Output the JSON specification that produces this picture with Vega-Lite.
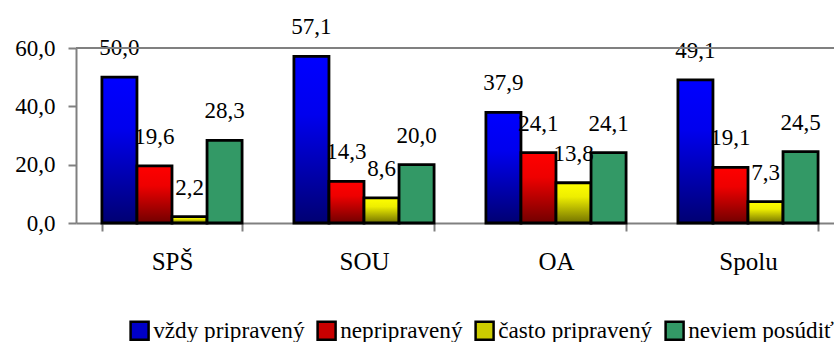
{
  "$schema": "https://vega.github.io/schema/vega-lite/v6.json",
  "width": 758,
  "height": 175,
  "autosize": {"type": "none"},
  "padding": {"left": 76, "top": 48, "right": 0, "bottom": 119},
  "background": "white",
  "config": {
    "locale": {"number": {"decimal": ",", "thousands": " ", "grouping": [3], "currency": ["", " €"]}},
    "view": {"stroke": null},
    "font": "Liberation Serif"
  },
  "data": {
    "values": [
      {"skupina": "SPŠ", "odpoved": "vždy pripravený", "hodnota": 50.0},
      {"skupina": "SPŠ", "odpoved": "nepripravený", "hodnota": 19.6},
      {"skupina": "SPŠ", "odpoved": "často pripravený", "hodnota": 2.2},
      {"skupina": "SPŠ", "odpoved": "neviem posúdiť", "hodnota": 28.3},
      {"skupina": "SOU", "odpoved": "vždy pripravený", "hodnota": 57.1},
      {"skupina": "SOU", "odpoved": "nepripravený", "hodnota": 14.3},
      {"skupina": "SOU", "odpoved": "často pripravený", "hodnota": 8.6},
      {"skupina": "SOU", "odpoved": "neviem posúdiť", "hodnota": 20.0},
      {"skupina": "OA", "odpoved": "vždy pripravený", "hodnota": 37.9},
      {"skupina": "OA", "odpoved": "nepripravený", "hodnota": 24.1},
      {"skupina": "OA", "odpoved": "často pripravený", "hodnota": 13.8},
      {"skupina": "OA", "odpoved": "neviem posúdiť", "hodnota": 24.1},
      {"skupina": "Spolu", "odpoved": "vždy pripravený", "hodnota": 49.1},
      {"skupina": "Spolu", "odpoved": "nepripravený", "hodnota": 19.1},
      {"skupina": "Spolu", "odpoved": "často pripravený", "hodnota": 7.3},
      {"skupina": "Spolu", "odpoved": "neviem posúdiť", "hodnota": 24.5}
    ]
  },
  "encoding": {
    "x": {
      "field": "skupina",
      "type": "nominal",
      "sort": ["SPŠ", "SOU", "OA", "Spolu"],
      "scale": {"range": [0, 768], "paddingInner": 0.27, "paddingOuter": 0.135},
      "axis": {
        "title": null,
        "labelAngle": 0,
        "labelFont": "Liberation Serif",
        "labelFontSize": 25,
        "labelColor": "black",
        "labelBaseline": "alphabetic",
        "labelPadding": 38,
        "tickBand": "extent",
        "tickSize": 8,
        "tickColor": "#808080",
        "tickWidth": 2,
        "domainColor": "#808080",
        "domainWidth": 2
      }
    },
    "xOffset": {
      "field": "odpoved",
      "type": "nominal",
      "sort": ["vždy pripravený", "nepripravený", "často pripravený", "neviem posúdiť"],
      "scale": {"paddingInner": 0, "paddingOuter": 0}
    },
    "y": {
      "field": "hodnota",
      "type": "quantitative",
      "scale": {"domain": [0, 60], "nice": false},
      "axis": {
        "title": null,
        "values": [0, 20, 40, 60],
        "format": ".1f",
        "grid": false,
        "labelFont": "Liberation Serif",
        "labelFontSize": 23,
        "labelColor": "black",
        "labelPadding": 13,
        "tickSize": 8,
        "tickColor": "#808080",
        "tickWidth": 2,
        "domainColor": "#808080",
        "domainWidth": 2
      }
    }
  },
  "layer": [
    {
      "transform": [{"filter": "datum.odpoved === 'vždy pripravený'"}],
      "mark": {"type": "bar", "stroke": "black", "strokeWidth": 2.8,
        "fill": {"gradient": "linear", "x1": 0, "y1": 0, "x2": 0, "y2": 1, "stops": [{"offset": 0, "color": "#0000FF"}, {"offset": 0.35, "color": "#0000EE"}, {"offset": 1, "color": "#000072"}]}}
    },
    {
      "transform": [{"filter": "datum.odpoved === 'nepripravený'"}],
      "mark": {"type": "bar", "stroke": "black", "strokeWidth": 2.8,
        "fill": {"gradient": "linear", "x1": 0, "y1": 0, "x2": 0, "y2": 1, "stops": [{"offset": 0, "color": "#FF0000"}, {"offset": 0.35, "color": "#EE0000"}, {"offset": 1, "color": "#720000"}]}}
    },
    {
      "transform": [{"filter": "datum.odpoved === 'často pripravený'"}],
      "mark": {"type": "bar", "stroke": "black", "strokeWidth": 2.8,
        "fill": {"gradient": "linear", "x1": 0, "y1": 0, "x2": 0, "y2": 1, "stops": [{"offset": 0, "color": "#FFFF00"}, {"offset": 0.35, "color": "#EEEE00"}, {"offset": 1, "color": "#727200"}]}}
    },
    {
      "transform": [{"filter": "datum.odpoved === 'neviem posúdiť'"}],
      "mark": {"type": "bar", "stroke": "black", "strokeWidth": 2.8, "fill": "#339966"}
    },
    {
      "mark": {"type": "point", "shape": "square", "filled": true, "opacity": 0},
      "encoding": {
        "color": {
          "field": "odpoved",
          "type": "nominal",
          "sort": ["vždy pripravený", "nepripravený", "často pripravený", "neviem posúdiť"],
          "scale": {
            "domain": ["vždy pripravený", "nepripravený", "často pripravený", "neviem posúdiť"],
            "range": ["#0000C8", "#C80000", "#CCCC00", "#339966"]
          },
          "legend": {
            "title": null,
            "orient": "none",
            "direction": "horizontal",
            "legendX": 52,
            "legendY": 271,
            "symbolType": "square",
            "symbolSize": 324,
            "symbolStrokeColor": "black",
            "symbolStrokeWidth": 2.5,
            "symbolOpacity": 1,
            "labelFont": "Liberation Serif",
            "labelFontSize": 23.2,
            "labelColor": "black",
            "labelOffset": 2,
            "labelLimit": 400,
            "columnPadding": 7
          }
        }
      }
    },
    {
      "mark": {"type": "text", "baseline": "alphabetic", "align": "center", "dy": -22, "fontSize": 23, "font": "Liberation Serif", "color": "black"},
      "encoding": {
        "text": {"field": "hodnota", "type": "quantitative", "format": ".1f"}
      }
    },
    {
      "mark": {"type": "rule", "color": "#808080", "strokeWidth": 2},
      "encoding": {
        "x": null,
        "xOffset": null,
        "y": {"datum": 60}
      }
    }
  ]
}
